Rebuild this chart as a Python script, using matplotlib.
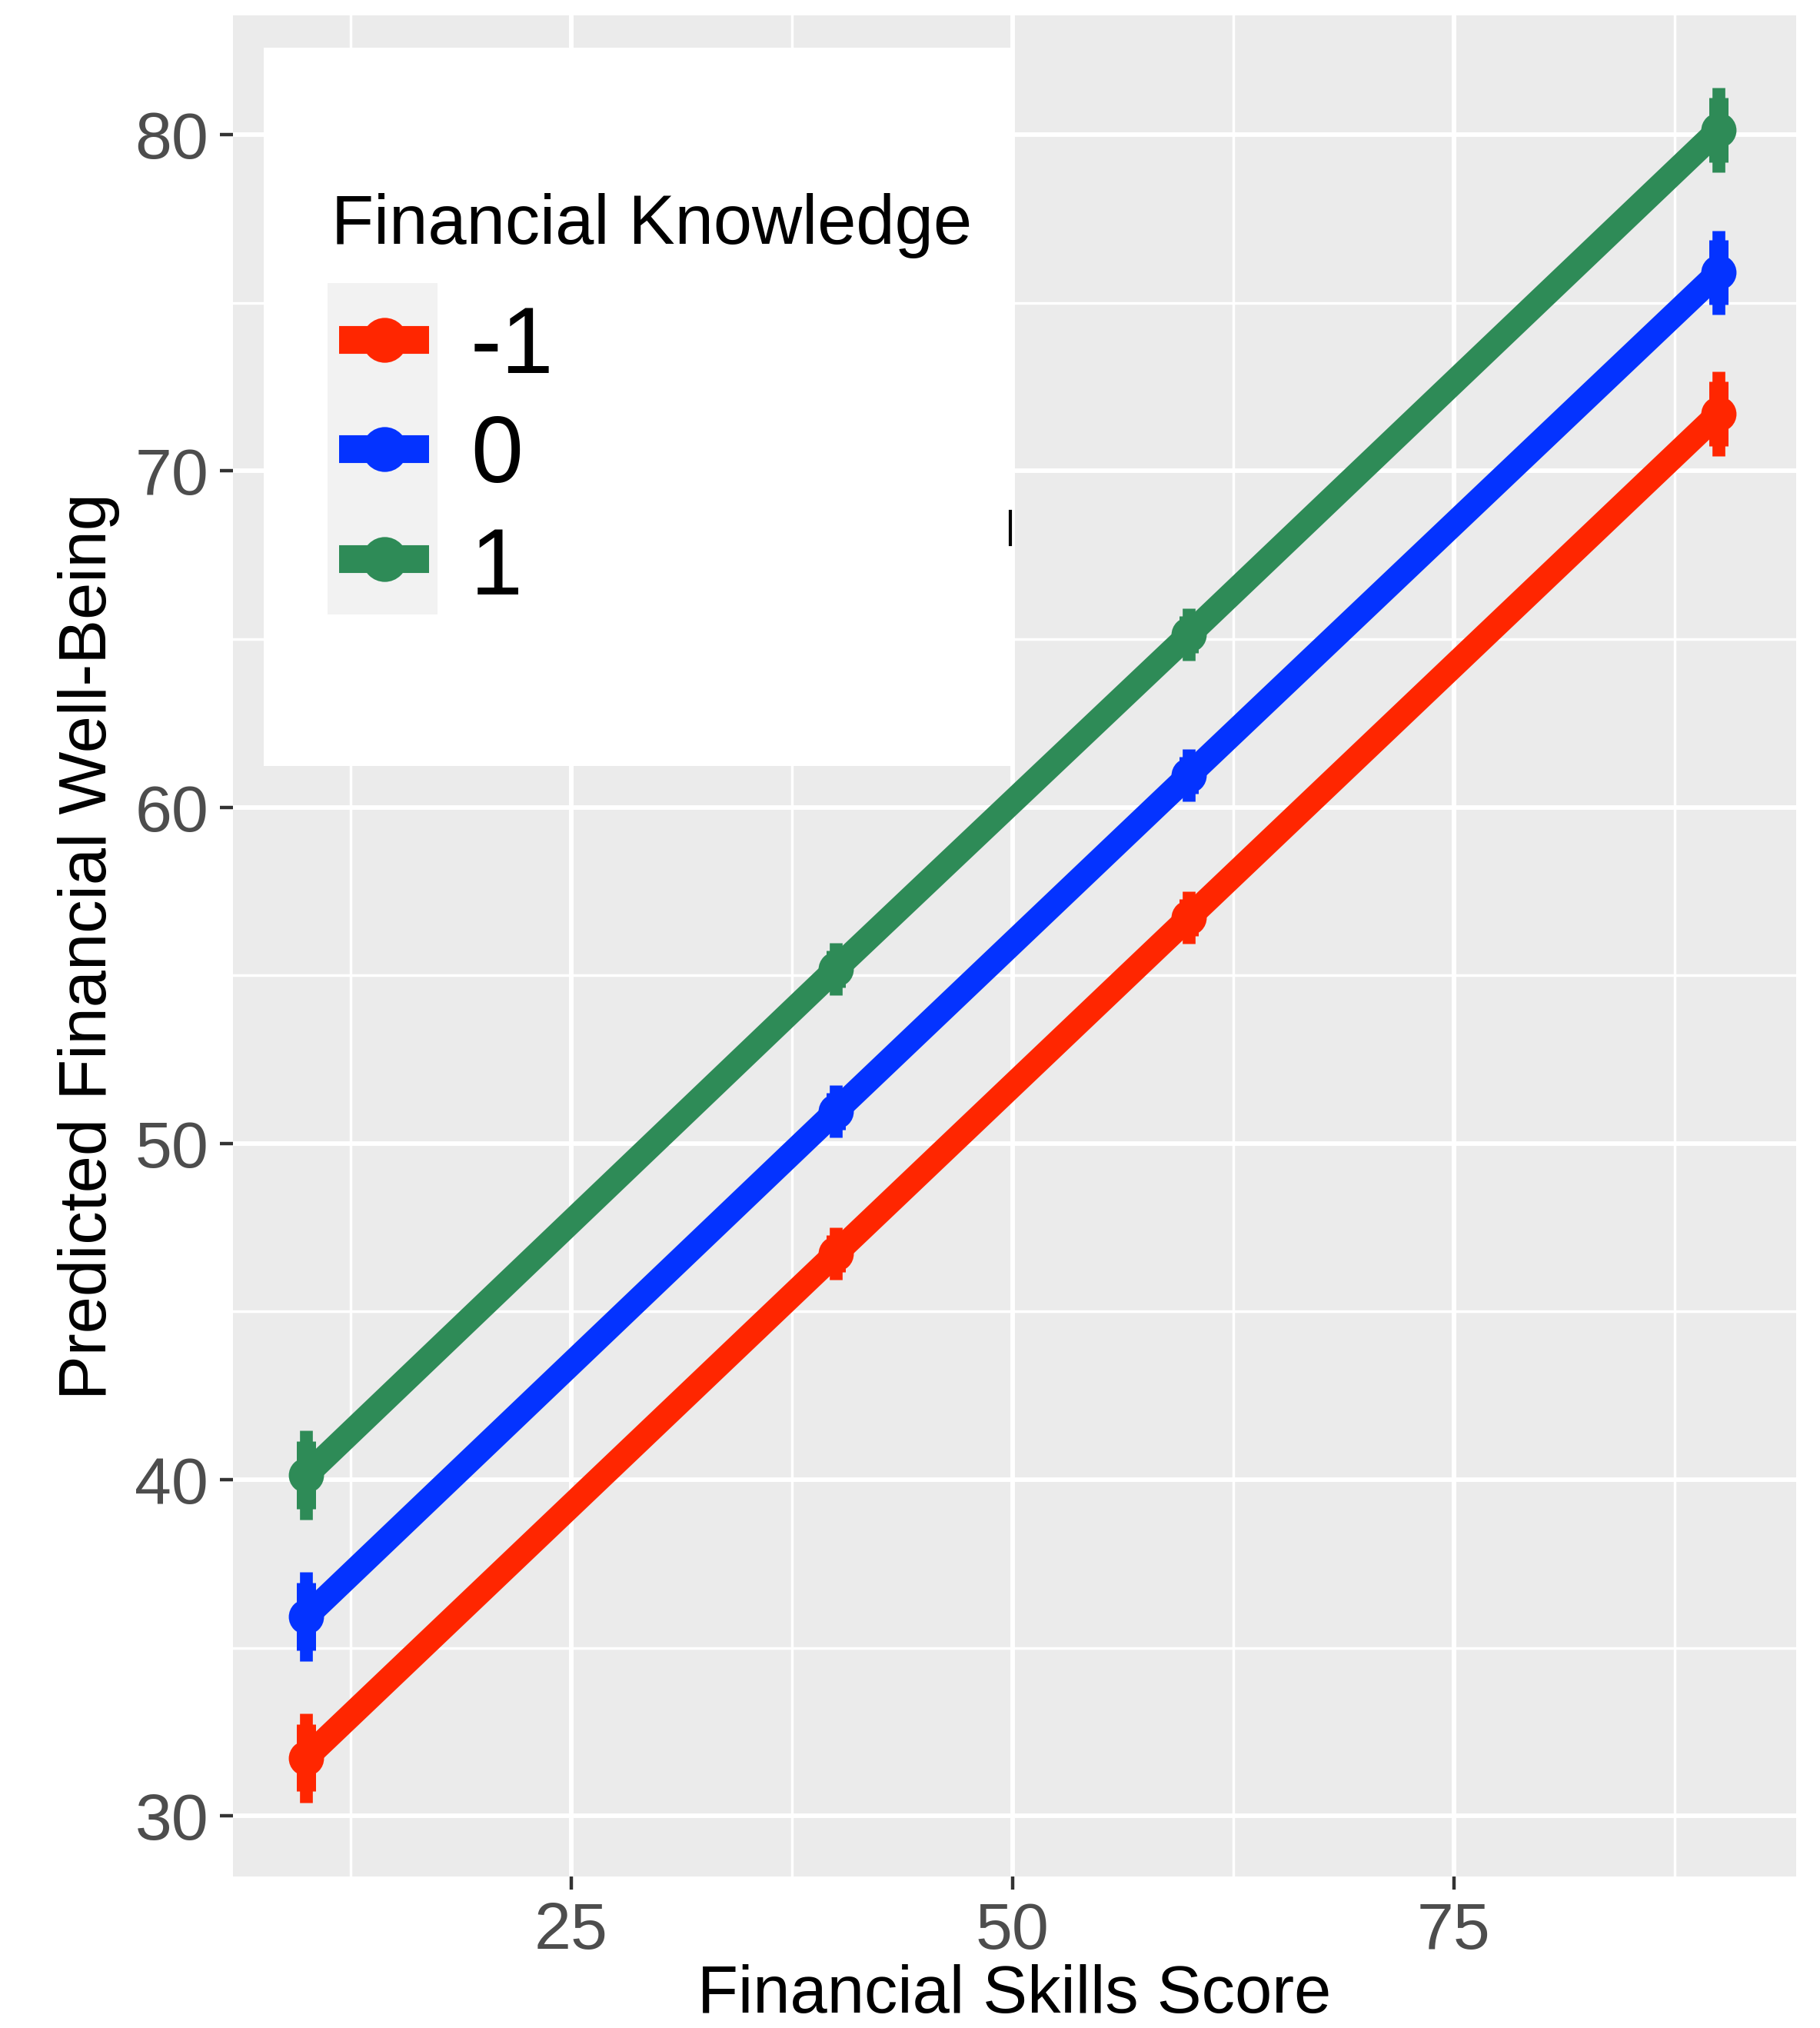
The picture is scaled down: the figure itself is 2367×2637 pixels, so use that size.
import matplotlib
matplotlib.use("Agg")
import matplotlib.pyplot as plt
from matplotlib.patches import Rectangle
from matplotlib.lines import Line2D

plt.rcParams['font.family'] = ['Liberation Sans', 'DejaVu Sans']

# predicted well-being at four skill scores, one series per knowledge level
skill_score = [10, 40, 60, 90]
knowledge_levels = ["-1", "0", "1"]
fwb_low = [31.73, 46.73, 56.72, 71.70]
fwb_mid = [35.93, 50.96, 60.95, 75.90]
fwb_high = [40.14, 55.19, 65.13, 80.14]
ci_outer = [1.33, 0.78, 0.78, 1.25]
ci_inner = [1.00, 0.55, 0.55, 0.96]

colors = ["#FF2600", "#0433FF", "#2E8B57"]
series = [fwb_low, fwb_mid, fwb_high]

W, H = 2367, 2637
fig = plt.figure(figsize=(W / 100, H / 100), dpi=100)
fig.patch.set_facecolor("white")

# panel position in pixels
px_l, px_r, px_t, px_b = 303, 2336, 20, 2440
ax = fig.add_axes([px_l / W, 1 - px_b / H, (px_r - px_l) / W, (px_b - px_t) / H])
ax.set_facecolor("#EBEBEB")
ax.set_xlim(5.85, 94.4)
ax.set_ylim(28.2, 83.55)

ax.set_xticks([25, 50, 75])
ax.set_xticks([12.5, 37.5, 62.5, 87.5], minor=True)
ax.set_yticks([30, 40, 50, 60, 70, 80])
ax.set_yticks([35, 45, 55, 65, 75], minor=True)
ax.grid(which="major", color="white", lw=4.3)
ax.grid(which="minor", color="white", lw=2.5)
ax.set_axisbelow(True)
for s in ax.spines.values():
    s.set_visible(False)
ax.tick_params(which="major", length=12, width=3.2, color="#333333",
               labelsize=62, labelcolor="#4D4D4D", pad=11)
ax.tick_params(which="minor", length=0)

for ys, c in zip(series, colors):
    lo_o = [y - e for y, e in zip(ys, ci_outer)]
    hi_o = [y + e for y, e in zip(ys, ci_outer)]
    lo_i = [y - e for y, e in zip(ys, ci_inner)]
    hi_i = [y + e for y, e in zip(ys, ci_inner)]
    ax.plot(skill_score, ys, color=c, lw=23, solid_capstyle="butt", zorder=3)
    ax.vlines(skill_score, lo_o, hi_o, color=c, lw=12, zorder=4)
    ax.vlines(skill_score, lo_i, hi_i, color=c, lw=18, zorder=4)
    ax.plot(skill_score, ys, "o", color=c, ms=33, mew=0, zorder=5)

ax.set_xlabel("Financial Skills Score", fontsize=62.5, color="black", va="baseline")
ax.xaxis.set_label_coords(0.5, -(2617 - px_b) / (px_b - px_t))
ax.set_ylabel("Predicted Financial Well-Being", fontsize=62.5, color="black", va="baseline")
ax.yaxis.set_label_coords(-(px_l - 138) / (px_r - px_l), 0.5)

# legend box drawn by hand, in pixel coordinates
lx0, lx1, ly0, ly1 = 343, 1317, 62, 996
leg = fig.add_axes([lx0 / W, 1 - ly1 / H, (lx1 - lx0) / W, (ly1 - ly0) / H])
leg.set_xlim(lx0, lx1)
leg.set_ylim(ly1, ly0)
leg.set_facecolor("white")
leg.set_xticks([])
leg.set_yticks([])
for s in leg.spines.values():
    s.set_visible(False)

leg.text(431, 317, "Financial Knowledge", fontsize=65, color="black", va="baseline", ha="left")
leg.add_patch(Rectangle((426, 368), 143, 431, facecolor="#F2F2F2", edgecolor="none"))
key_y = [442, 584, 727]
label_base = [485, 627, 773]
for lab, c, ky, lb in zip(knowledge_levels, colors, key_y, label_base):
    leg.add_line(Line2D([441, 558], [ky, ky], color=c, lw=26, solid_capstyle="butt"))
    leg.plot([499.5], [ky], "o", color=c, ms=42, mew=0)
    leg.text(612, lb, lab, fontsize=88, color="black", va="baseline", ha="left")
# stray mark at the right edge of the legend box
leg.add_line(Line2D([1314, 1314], [665, 708], color="black", lw=3, clip_on=False))

fig.savefig("out.png", dpi=100, facecolor="white")
